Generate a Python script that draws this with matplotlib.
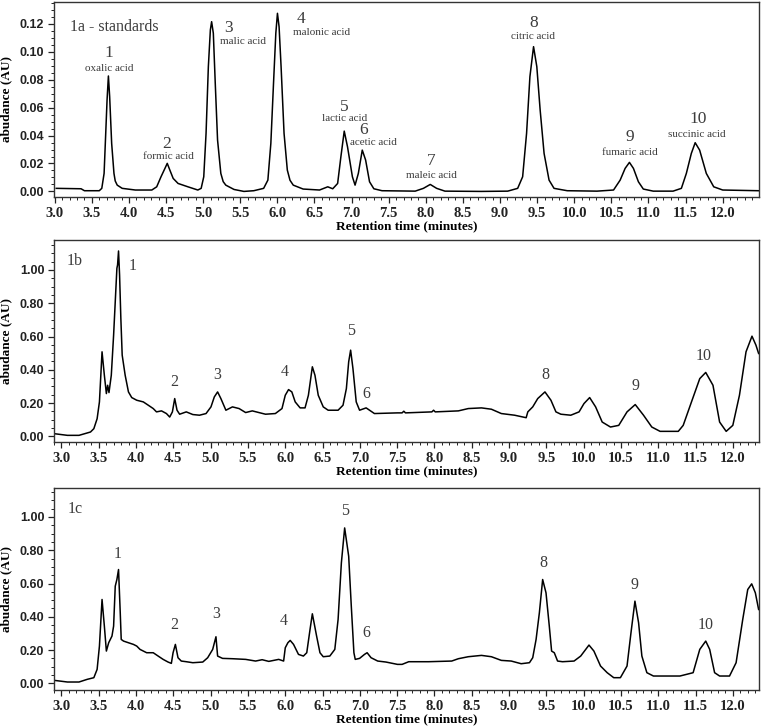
import matplotlib
matplotlib.use("Agg")
import matplotlib.pyplot as plt
from matplotlib.ticker import MultipleLocator, FormatStrFormatter

# ---------------- data (retention time in minutes, abundance in AU) ----------------
# Panel 1a - standards
t_a = [3.02, 3.355, 3.40, 3.60, 3.634, 3.665, 3.687, 3.705, 3.723, 3.740, 3.767, 3.798, 3.815, 3.842,
       3.909, 4.086, 4.308, 4.374, 4.432, 4.485, 4.516, 4.551, 4.596, 4.662, 4.795, 4.928, 4.973,
       5.008, 5.039, 5.070, 5.097, 5.114, 5.137, 5.163, 5.194, 5.238, 5.270, 5.305, 5.416, 5.549, 5.682,
       5.815, 5.872, 5.912, 5.948, 5.979, 6.001, 6.023, 6.050, 6.090, 6.134, 6.170, 6.214, 6.347, 6.568,
       6.679, 6.746, 6.812, 6.856, 6.901, 6.945, 7.011, 7.047, 7.091, 7.144, 7.189, 7.242, 7.300,
       7.410, 7.857, 7.968, 8.060, 8.146, 8.258, 8.748, 9.104, 9.238, 9.305, 9.358, 9.403, 9.452,
       9.496, 9.541, 9.594, 9.661, 9.728, 9.906, 10.307, 10.530, 10.619, 10.686, 10.744, 10.798,
       10.865, 10.931, 11.065, 11.332, 11.444, 11.511, 11.578, 11.630, 11.690, 11.780, 11.880,
       12.001, 12.482]
v_a = [0.0022, 0.0019, 0.0005, 0.0005, 0.0022, 0.0129, 0.0416, 0.0655, 0.0827, 0.0679, 0.0344,
       0.0129, 0.0075, 0.0045, 0.0022, 0.0010, 0.0010, 0.0033, 0.0105, 0.0165, 0.0201, 0.0153, 0.0093,
       0.0057, 0.0033, 0.0010, 0.0022, 0.0105, 0.0416, 0.0894, 0.1157, 0.1216, 0.1133, 0.0774,
       0.0368, 0.0129, 0.0070, 0.0045, 0.0014, 0.0000, 0.0005, 0.0022, 0.0081, 0.0344, 0.0774, 0.1133,
       0.1276, 0.1180, 0.0894, 0.0416, 0.0153, 0.0080, 0.0045, 0.0017, 0.0010, 0.0033, 0.0019, 0.0057,
       0.0249, 0.0432, 0.0320, 0.0105, 0.0045, 0.0129, 0.0296, 0.0225, 0.0069, 0.0019, 0.0005,
       0.0002, 0.0022, 0.0050, 0.0022, 0.0002, 0.0000, 0.0002, 0.0022, 0.0105, 0.0416, 0.0822,
       0.1037, 0.0894, 0.0583, 0.0272, 0.0081, 0.0022, 0.0005, 0.0002, 0.0010, 0.0081, 0.0165,
       0.0208, 0.0165, 0.0069, 0.0017, 0.0002, 0.0002, 0.0022, 0.0129, 0.0272, 0.0349, 0.0296,
       0.0129, 0.0033, 0.0010, 0.0005]

# Panel 1b
t_b = [2.903, 3.080, 3.235, 3.389, 3.434, 3.478, 3.509, 3.544, 3.575, 3.602, 3.619, 3.637, 3.668,
       3.699, 3.721, 3.743, 3.752, 3.765, 3.779, 3.796, 3.814, 3.854, 3.898, 3.942, 4.009, 4.097,
       4.164, 4.230, 4.274, 4.341, 4.407, 4.451, 4.487, 4.518, 4.549, 4.584, 4.673, 4.761, 4.850,
       4.938, 5.004, 5.049, 5.093, 5.137, 5.204, 5.292, 5.381, 5.469, 5.558, 5.646, 5.735, 5.867,
       5.956, 6.000, 6.044, 6.088, 6.133, 6.199, 6.265, 6.310, 6.363, 6.398, 6.442, 6.509, 6.575,
       6.708, 6.774, 6.819, 6.850, 6.876, 6.907, 6.951, 6.996, 7.084, 7.195, 7.504, 7.566, 7.589,
       7.611, 7.965, 7.988, 8.010, 8.320, 8.453, 8.630, 8.763, 8.896, 9.074, 9.229, 9.251, 9.317,
       9.384, 9.481, 9.561, 9.628, 9.694, 9.827, 9.938, 10.004, 10.080, 10.160, 10.248, 10.359,
       10.470, 10.581, 10.691, 10.802, 10.913, 11.024, 11.268, 11.334, 11.445, 11.556, 11.636,
       11.733, 11.822, 11.910, 11.999, 12.088, 12.176, 12.256, 12.309, 12.345]
v_b = [0.016, 0.006, 0.006, 0.026, 0.046, 0.106, 0.207, 0.508, 0.367, 0.257, 0.307, 0.263, 0.367,
       0.608, 0.809, 1.010, 1.030, 1.114, 0.970, 0.709, 0.488, 0.367, 0.267, 0.233, 0.217, 0.207,
       0.187, 0.167, 0.147, 0.153, 0.137, 0.116, 0.147, 0.227, 0.157, 0.133, 0.147, 0.131, 0.127,
       0.137, 0.177, 0.237, 0.267, 0.227, 0.157, 0.177, 0.167, 0.143, 0.153, 0.143, 0.133, 0.137,
       0.167, 0.247, 0.281, 0.267, 0.207, 0.171, 0.171, 0.247, 0.418, 0.367, 0.247, 0.177, 0.157,
       0.157, 0.187, 0.287, 0.448, 0.518, 0.408, 0.207, 0.157, 0.171, 0.137, 0.141, 0.141, 0.151,
       0.141, 0.147, 0.157, 0.147, 0.153, 0.167, 0.171, 0.163, 0.137, 0.127, 0.112, 0.147, 0.177,
       0.227, 0.267, 0.217, 0.147, 0.133, 0.127, 0.147, 0.197, 0.233, 0.177, 0.086, 0.056,
       0.066, 0.147, 0.191, 0.127, 0.056, 0.030, 0.030, 0.066, 0.207, 0.347, 0.384,
       0.307, 0.086, 0.030, 0.066, 0.247, 0.508, 0.602, 0.548, 0.498]

# Panel 1c
t_c = [2.903, 3.080, 3.235, 3.345, 3.434, 3.478, 3.509, 3.544, 3.575, 3.602, 3.633, 3.677, 3.699,
       3.721, 3.743, 3.765, 3.788, 3.801, 3.832, 3.898, 3.965, 4.009, 4.053, 4.142, 4.230, 4.296,
       4.363, 4.429, 4.473, 4.496, 4.527, 4.562, 4.606, 4.673, 4.761, 4.894, 4.960, 5.027, 5.071,
       5.093, 5.159, 5.292, 5.469, 5.602, 5.690, 5.779, 5.912, 5.978, 6.000, 6.035, 6.066, 6.111,
       6.177, 6.243, 6.288, 6.332, 6.363, 6.420, 6.465, 6.509, 6.597, 6.664, 6.708, 6.752, 6.796,
       6.850, 6.885, 6.920, 6.938, 6.996, 7.062, 7.097, 7.150, 7.239, 7.350, 7.504, 7.566, 7.655,
       7.921, 8.231, 8.320, 8.453, 8.630, 8.763, 8.896, 9.029, 9.162, 9.273, 9.317, 9.362, 9.406,
       9.450, 9.495, 9.539, 9.570, 9.606, 9.650, 9.716, 9.871, 9.960, 10.071, 10.137, 10.226,
       10.315, 10.403, 10.492, 10.581, 10.634, 10.687, 10.736, 10.780, 10.847, 10.935, 11.290,
       11.467, 11.556, 11.636, 11.689, 11.755, 11.822, 11.955, 12.043, 12.132, 12.199, 12.252,
       12.301, 12.345]
v_c = [0.018, 0.008, 0.008, 0.024, 0.034, 0.084, 0.224, 0.504, 0.344, 0.194, 0.244, 0.284, 0.344,
       0.584, 0.624, 0.684, 0.424, 0.264, 0.254, 0.244, 0.234, 0.224, 0.204, 0.184, 0.184, 0.164,
       0.144, 0.128, 0.120, 0.184, 0.234, 0.154, 0.134, 0.130, 0.124, 0.128, 0.154, 0.204, 0.280,
       0.164, 0.150, 0.148, 0.144, 0.134, 0.142, 0.132, 0.144, 0.134, 0.214, 0.244, 0.258, 0.234,
       0.174, 0.164, 0.184, 0.324, 0.418, 0.284, 0.184, 0.160, 0.164, 0.204, 0.384, 0.724, 0.934,
       0.764, 0.464, 0.184, 0.144, 0.150, 0.174, 0.184, 0.154, 0.134, 0.128, 0.114, 0.114, 0.130,
       0.130, 0.134, 0.148, 0.160, 0.168, 0.160, 0.138, 0.134, 0.118, 0.124, 0.154, 0.264, 0.424,
       0.624, 0.544, 0.344, 0.194, 0.184, 0.134, 0.130, 0.134, 0.164, 0.230, 0.194, 0.104,
       0.064, 0.034, 0.034, 0.104, 0.304, 0.494, 0.364, 0.164, 0.064, 0.044, 0.044,
       0.064, 0.204, 0.254, 0.204, 0.064, 0.044, 0.044, 0.124, 0.384, 0.564, 0.598,
       0.544, 0.444]

# peak labels: (text, time, abundance)
num_a = [("1", 3.723, 0.0989), ("2", 4.507, 0.0339), ("3", 5.340, 0.1173), ("4", 6.316, 0.1235),
         ("5", 6.901, 0.0607), ("6", 7.165, 0.0440), ("7", 8.066, 0.0217), ("8", 9.452, 0.1209),
         ("9", 10.744, 0.0392), ("10", 11.667, 0.0516)]
name_a = [("oxalic acid", 3.731, 0.0882), ("formic acid", 4.529, 0.0253), ("malic acid", 5.535, 0.1073),
          ("malonic acid", 6.590, 0.1137), ("lactic acid", 6.901, 0.0523), ("acetic acid", 7.295, 0.0350),
          ("maleic acid", 8.079, 0.0117), ("citric acid", 9.438, 0.1113), ("fumaric acid", 10.744, 0.0277),
          ("succinic acid", 11.653, 0.0409)]
num_b = [("1", 3.951, 1.026), ("2", 4.509, 0.327), ("3", 5.093, 0.371), ("4", 5.991, 0.388),
         ("5", 6.876, 0.635), ("6", 7.084, 0.253), ("8", 9.481, 0.371), ("9", 10.691, 0.303),
         ("10", 11.609, 0.484)]
num_c = [("1", 3.752, 0.780), ("2", 4.509, 0.350), ("3", 5.071, 0.414), ("4", 5.978, 0.374),
         ("5", 6.796, 1.038), ("6", 7.084, 0.304), ("8", 9.459, 0.724), ("9", 10.683, 0.594),
         ("10", 11.636, 0.350)]
tags = ["1a - standards", "1b", "1c"]

xlabel = "Retention time (minutes)"
ylabel = "abudance (AU)"

# ---------------- drawing ----------------
SERIF = ["Liberation Serif", "DejaVu Serif"]
SANS = ["Liberation Sans", "DejaVu Sans"]
TXT = "#3c3c3c"

fig = plt.figure(figsize=(7.61, 7.28), dpi=100)
W, H = 761, 728

def axes_px(x0, y0, x1, y1):
    return fig.add_axes([x0 / W, 1 - y1 / H, (x1 - x0) / W, (y1 - y0) / H])

ax_a = axes_px(54, 2, 759, 197)
ax_b = axes_px(54, 240, 759, 442)
ax_c = axes_px(54, 488, 759, 690)

cfg = [
    (ax_a, t_a, v_a, (2.99, 12.49), (-0.004, 0.1357), 0.02, 0.005, "%.2f"),
    (ax_b, t_b, v_b, (2.90, 12.35), (-0.034, 1.18), 0.20, 0.05, "%.2f"),
    (ax_c, t_c, v_c, (2.90, 12.35), (-0.040, 1.174), 0.20, 0.05, "%.2f"),
]

for ax, t, v, xl, yl, ymaj, ymin, fmt in cfg:
    ax.plot(t, v, color="black", lw=1.1, solid_joinstyle="round")
    ax.set_xlim(*xl)
    ax.set_ylim(*yl)
    ax.xaxis.set_major_locator(MultipleLocator(0.5))
    ax.xaxis.set_minor_locator(MultipleLocator(0.1))
    ax.xaxis.set_major_formatter(FormatStrFormatter("%.1f"))
    ax.yaxis.set_major_locator(MultipleLocator(ymaj))
    ax.yaxis.set_minor_locator(MultipleLocator(ymin))
    ax.yaxis.set_major_formatter(FormatStrFormatter(fmt))
    ax.tick_params(which="major", direction="out", length=4, width=0.9, colors="#222222")
    ax.tick_params(which="minor", direction="out", length=2.5, width=0.7, colors="#222222")
    ax.tick_params(axis="x", pad=3)
    ax.tick_params(axis="y", pad=3)
    for lab in ax.get_xticklabels():
        lab.set_fontfamily(SERIF)
        lab.set_fontweight("bold")
        lab.set_fontsize(10.5)
    for lab in ax.get_yticklabels():
        lab.set_fontfamily(SANS)
        lab.set_fontweight("bold")
        lab.set_fontsize(9)
    for sp in ax.spines.values():
        sp.set_linewidth(1.0)
        sp.set_color("#333333")
    ax.set_xlabel(xlabel, family=SERIF, fontweight="bold", fontsize=9.5, labelpad=0.5)
    ax.set_ylabel(ylabel, family=SERIF, fontweight="bold", fontsize=9.5, labelpad=5)

# annotations panel a
ax_a.text(3.2, 0.118, tags[0], family=SERIF, fontsize=11.5, color=TXT, ha="left", va="center")
for s, x, y in num_a:
    ax_a.text(x, y, s, family=SERIF, fontsize=12.5, color=TXT, ha="center", va="center")
for s, x, y in name_a:
    ax_a.text(x, y, s, family=SERIF, fontsize=8, color=TXT, ha="center", va="center")

ax_b.text(3.07, 1.054, tags[1], family=SERIF, fontsize=11.5, color=TXT, ha="left", va="center")
for s, x, y in num_b:
    ax_b.text(x, y, s, family=SERIF, fontsize=11.5, color=TXT, ha="center", va="center")

ax_c.text(3.08, 1.048, tags[2], family=SERIF, fontsize=11.5, color=TXT, ha="left", va="center")
for s, x, y in num_c:
    ax_c.text(x, y, s, family=SERIF, fontsize=11.5, color=TXT, ha="center", va="center")

fig.savefig("out.png", dpi=100)
